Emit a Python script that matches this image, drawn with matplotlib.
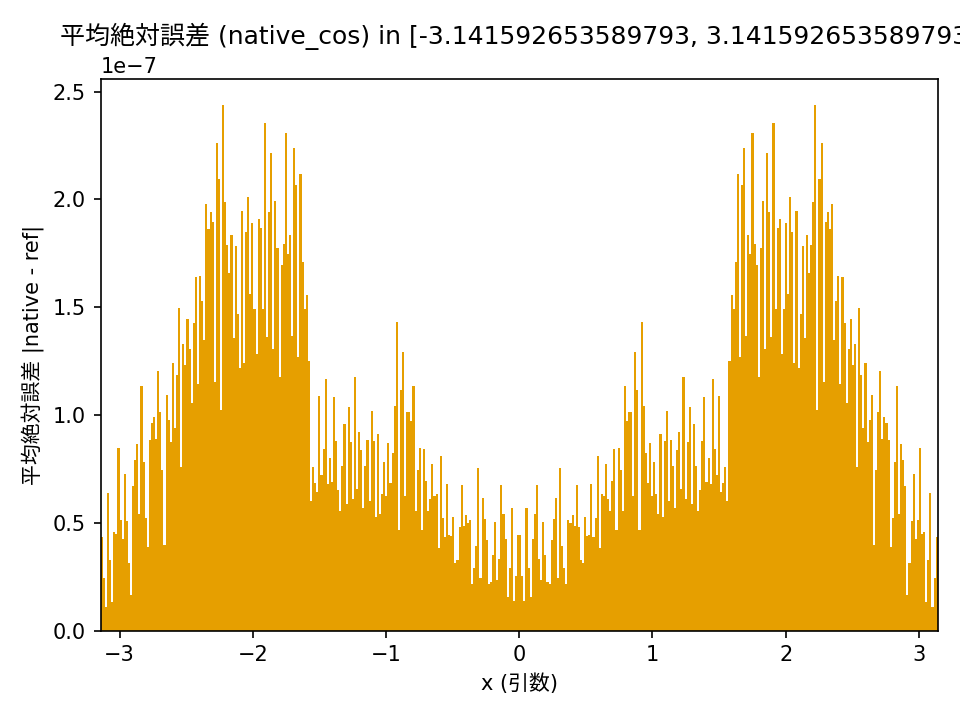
import matplotlib
matplotlib.use("Agg")
import matplotlib.pyplot as plt
import numpy as np

plt.rcParams['font.family'] = ['DejaVu Sans', 'Noto Sans CJK JP']
plt.rcParams['axes.unicode_minus'] = True

# mean absolute error per bin, left half (-pi .. 0), units of 1e-7
# the error of cos is symmetric, so the right half is the mirror image
err_left = [
    0.434, 0.245, 0.111, 0.639, 0.328, 0.132, 0.457, 0.450, 0.848, 0.513,
    0.427, 0.725, 0.508, 0.315, 0.167, 0.671, 0.791, 0.866, 0.541, 1.134,
    0.781, 0.523, 0.386, 0.884, 0.964, 0.990, 0.891, 1.204, 1.013, 0.747,
    0.399, 1.093, 0.977, 0.876, 1.242, 0.942, 1.185, 1.497, 0.760, 1.329,
    1.233, 1.445, 1.306, 1.058, 1.427, 1.639, 1.146, 1.644, 1.528, 1.349,
    1.978, 1.864, 1.940, 1.894, 1.154, 2.262, 2.094, 1.025, 2.437, 1.987,
    1.788, 1.659, 1.834, 1.359, 1.783, 1.469, 1.220, 1.945, 1.242, 1.848,
    2.010, 1.561, 1.891, 1.492, 1.283, 1.909, 1.868, 1.492, 2.354, 1.363,
    1.940, 2.215, 1.306, 1.992, 1.775, 1.175, 1.695, 1.793, 2.308, 1.747,
    1.834, 1.366, 2.238, 2.066, 1.268, 2.118, 1.709, 1.492, 1.556, 1.250,
    0.601, 0.758, 0.685, 0.642, 1.088, 0.722, 0.843, 1.167, 0.680, 0.801,
    0.689, 1.083, 0.879, 0.652, 0.555, 0.763, 0.959, 0.588, 1.036, 0.874,
    0.611, 1.175, 0.657, 0.921, 0.838, 0.570, 0.763, 0.884, 0.601, 1.018,
    0.879, 0.526, 0.912, 0.541, 0.634, 0.781, 0.624, 0.871, 0.685, 0.824,
    1.041, 1.430, 0.467, 1.116, 1.291, 0.624, 1.013, 1.013, 0.972, 1.134,
    0.555, 0.745, 0.848, 0.467, 0.843, 0.694, 0.555, 0.611, 0.773, 0.624,
    0.634, 0.384, 0.810, 0.523, 0.434, 0.680, 0.444, 0.439, 0.526, 0.315,
    0.328, 0.480, 0.675, 0.485, 0.536, 0.500, 0.513, 0.217, 0.291, 0.392,
    0.755, 0.245, 0.616, 0.518, 0.421, 0.217, 0.224, 0.351, 0.503, 0.235,
    0.333, 0.675, 0.541, 0.425, 0.156, 0.291, 0.570, 0.137, 0.253, 0.444,
]
err = np.array(err_left + err_left[::-1]) * 1e-7

lo, hi = -np.pi, np.pi
edges = np.linspace(lo, hi, len(err) + 1)
centers = (edges[:-1] + edges[1:]) / 2
width = edges[1] - edges[0]

fig, ax = plt.subplots(figsize=(6.4, 4.8), dpi=150)
ax.bar(centers, err, width=width, color='#E69F00', linewidth=0)
ax.set_xlim(lo, hi)
ax.set_title(f"平均絶対誤差 (native_cos) in [{lo}, {hi}]")
ax.set_xlabel("x (引数)")
ax.set_ylabel("平均絶対誤差 |native - ref|")

fig.subplots_adjust(left=0.1049, right=0.9768, bottom=0.124, top=0.8903)
fig.savefig("out.png")
